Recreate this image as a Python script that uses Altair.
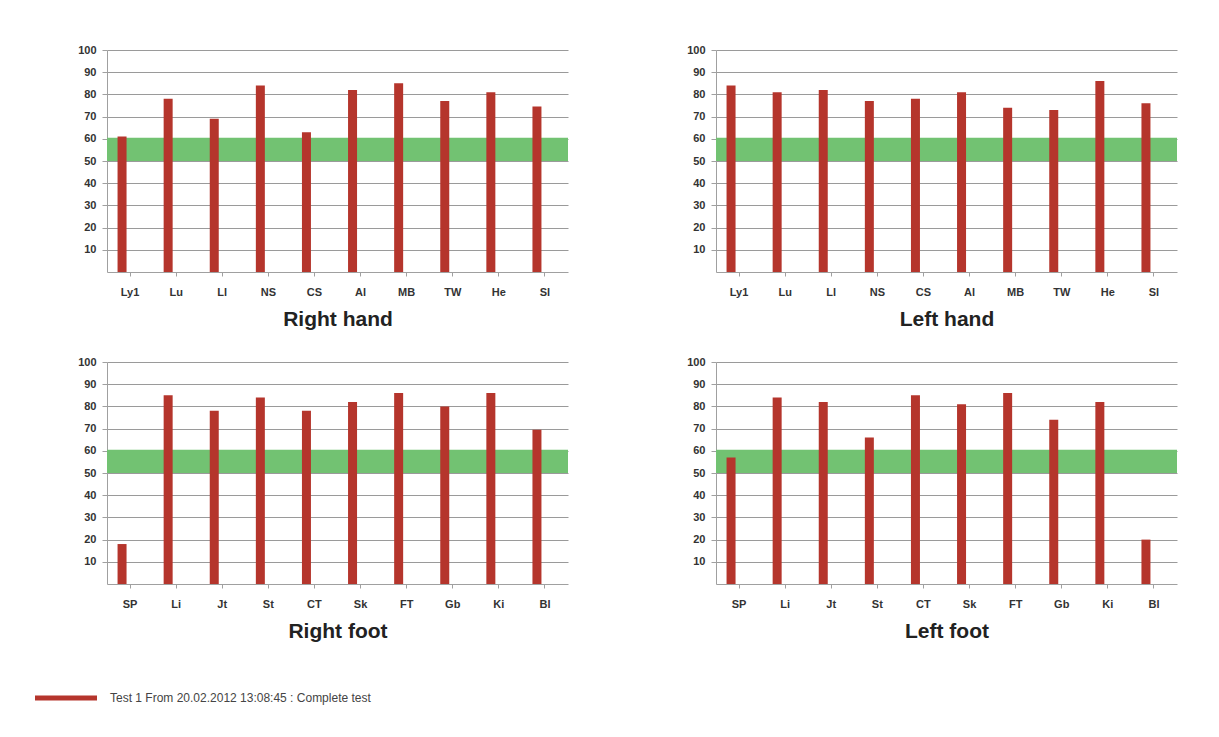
import altair as alt
import pandas as pd

hand_cats = ["Ly1", "Lu", "Ll", "NS", "CS", "Al", "MB", "TW", "He", "Sl"]
foot_cats = ["SP", "Li", "Jt", "St", "CT", "Sk", "FT", "Gb", "Ki", "Bl"]

right_hand = [61, 78, 69, 84, 63, 82, 85, 77, 81, 74.5]
left_hand = [84, 81, 82, 77, 78, 81, 74, 73, 86, 76]
right_foot = [18, 85, 78, 84, 78, 82, 86, 80, 86, 69.5]
left_foot = [57, 84, 82, 66, 85, 81, 86, 74, 82, 20]

band_low = [50]
band_high = [60.5]
y_ticks = [10, 20, 30, 40, 50, 60, 70, 80, 90, 100]

legend_label = ["Test 1 From 20.02.2012 13:08:45 :  Complete test"]

BAR = "#b5352c"
GREEN = "#72c272"
W, H = 461, 222


def y_axis():
    return alt.Axis(values=y_ticks, labelFont="Liberation Sans", labelFontWeight="bold",
                    labelFontSize=11, labelColor="#333333", labelPadding=6,
                    domainColor="#a0a0a0", tickColor="#a0a0a0", tickSize=5,
                    gridColor="#9a9a9a", gridWidth=1, title=None)


def panel(cats, vals, title):
    df = pd.DataFrame({"cat": cats, "val": vals})
    band_df = pd.DataFrame({"lo": band_low, "hi": band_high})
    x = alt.X("cat:N", sort=cats, title=title,
              scale=alt.Scale(paddingInner=0, paddingOuter=0),
              axis=alt.Axis(labelAngle=0, labelFont="Liberation Sans", labelFontWeight="bold",
                            labelFontSize=11, labelColor="#333333", labelPadding=10,
                            titleFont="Liberation Sans", titleFontSize=21, titleFontWeight="bold",
                            titleColor="#222222", titlePadding=11,
                            domainColor="#a0a0a0", tickColor="#a0a0a0", tickSize=4,
                            grid=False))
    band = alt.Chart(band_df).mark_rect(color=GREEN).encode(
        y=alt.Y("lo:Q", scale=alt.Scale(domain=[0, 100], nice=False), axis=y_axis()),
        y2="hi:Q",
        x=alt.value(0), x2=alt.value(W),
    )
    bars = alt.Chart(df).mark_bar(color=BAR, width=9, xOffset=-8).encode(
        x=x,
        y=alt.Y("val:Q", scale=alt.Scale(domain=[0, 100], nice=False), axis=y_axis()),
    )
    return alt.layer(band, bars).properties(width=W, height=H)


tl = panel(hand_cats, right_hand, "Right hand")
tr = panel(hand_cats, left_hand, "Left hand")
bl = panel(foot_cats, right_foot, "Right foot")
br = panel(foot_cats, left_foot, "Left foot")

leg_df = pd.DataFrame({"label": legend_label})
leg_line = alt.Chart(leg_df).mark_rule(color=BAR, strokeWidth=5).encode(
    x=alt.value(-72), x2=alt.value(-10), y=alt.value(14))
leg_text = alt.Chart(leg_df).mark_text(align="left", baseline="middle", font="Liberation Sans",
                                        fontSize=12, color="#444444").encode(
    x=alt.value(3), y=alt.value(14), text="label:N")
legend = alt.layer(leg_line, leg_text).properties(width=W, height=28)

top = alt.hconcat(tl, tr, spacing=118)
bottom = alt.hconcat(bl, br, spacing=118)
grid = alt.vconcat(top, bottom, spacing=27)
chart = alt.vconcat(grid, legend, spacing=43).configure(
    background="white", padding={"left": 24, "top": 36, "right": 5, "bottom": 5}
).configure_view(stroke=None)

chart.save("out.html", embed_options={"renderer": "svg", "actions": False})
